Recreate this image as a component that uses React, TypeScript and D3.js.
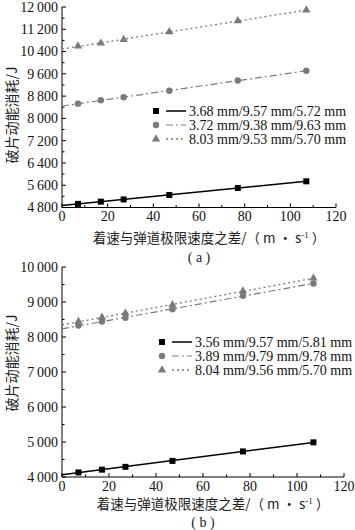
import React from "react";
import * as d3 from "d3";

const xValues = [7, 17, 27, 47, 77, 107];

const aSeriesNames = ["3.68 mm/9.57 mm/5.72 mm", "3.72 mm/9.38 mm/9.63 mm", "8.03 mm/9.53 mm/5.70 mm"];
const aSquare = [4930, 5010, 5090, 5250, 5500, 5740];
const aCircle = [8530, 8650, 8760, 8990, 9360, 9710];
const aTriangle = [10600, 10700, 10830, 11110, 11500, 11890];
const aYTicks = [4800, 5600, 6400, 7200, 8000, 8800, 9600, 10400, 11200, 12000];

const bSeriesNames = ["3.56 mm/9.57 mm/5.81 mm", "3.89 mm/9.79 mm/9.78 mm", "8.04 mm/9.56 mm/5.70 mm"];
const bSquare = [4130, 4210, 4290, 4460, 4730, 4990];
const bCircle = [8330, 8440, 8550, 8790, 9180, 9530];
const bTriangle = [8440, 8560, 8680, 8920, 9310, 9680];
const bYTicks = [4000, 5000, 6000, 7000, 8000, 9000, 10000];

const xTicks = [0, 20, 40, 60, 80, 100, 120];
const yTitle = "破片动能消耗/J";
const xTitle = "着速与弹道极限速度之差/（ m · s";

const FONT = "'Liberation Serif', 'Times New Roman', 'Noto Sans CJK SC', serif";
const CJK = "'Noto Sans CJK SC', 'Liberation Serif', serif";

function fmt(v: number) {
  const s = String(v);
  if (s.length > 3) return s.slice(0, s.length - 3) + "\u2009" + s.slice(s.length - 3);
  return s;
}

function fit(xs: number[], ys: number[]) {
  const mx = d3.mean(xs)!;
  const my = d3.mean(ys)!;
  let num = 0, den = 0;
  xs.forEach((x, i) => { num += (x - mx) * (ys[i] - my); den += (x - mx) * (x - mx); });
  const b = num / den;
  return { a: my - b * mx, b };
}

type PanelProps = {
  top: number; bottom: number; right: number;
  yDomain: [number, number]; yTicks: number[]; yMinorStep: number;
  series: number[][]; names: string[];
  legendX: number; legendY: number; label: string; titleY: number; labelY: number; yTitleY: number;
};

const styles = [
  { color: "#000", dash: "", width: 1.5, marker: "square" },
  { color: "#7a7a7a", dash: "7,3,2,3", width: 1.2, marker: "circle" },
  { color: "#7a7a7a", dash: "2,3", width: 1.3, marker: "triangle" },
];

function Marker({ type, x, y, color }: { type: string; x: number; y: number; color: string }) {
  if (type === "square") return <rect x={x - 3} y={y - 3} width={6} height={6} fill={color} />;
  if (type === "circle") return <circle cx={x} cy={y} r={3.2} fill={color} />;
  const p = d3.symbol(d3.symbolTriangle, 30)();
  return <path d={p || ""} transform={`translate(${x},${y})`} fill={color} />;
}

function Panel(p: PanelProps) {
  const left = 62;
  const x = d3.scaleLinear().domain([0, 120]).range([left, p.right]);
  const y = d3.scaleLinear().domain(p.yDomain).range([p.bottom, p.top]);
  const xMinor = d3.range(10, 120, 20);
  const yMinor = d3.range(p.yDomain[0] + p.yMinorStep, p.yDomain[1], p.yMinorStep * 2);
  return (
    <g>
      <line x1={left} x2={left} y1={p.top} y2={p.bottom} stroke="#000" strokeWidth={1} />
      <line x1={left} x2={p.right} y1={p.bottom} y2={p.bottom} stroke="#000" strokeWidth={1} />
      {p.yTicks.map((t) => (
        <g key={"yt" + t}>
          <line x1={left} x2={left + 4} y1={y(t)} y2={y(t)} stroke="#000" />
          <text x={left - 4} y={y(t)} dy="0.35em" textAnchor="end" fontSize={14} fontFamily={FONT} fill="#111">{fmt(t)}</text>
        </g>
      ))}
      {yMinor.map((t) => (
        <line key={"ym" + t} x1={left} x2={left + 2.5} y1={y(t)} y2={y(t)} stroke="#000" />
      ))}
      {xTicks.map((t) => (
        <g key={"xt" + t}>
          <line x1={x(t)} x2={x(t)} y1={p.bottom} y2={p.bottom - 4} stroke="#000" />
          <text x={x(t)} y={p.bottom + 13.5} textAnchor="middle" fontSize={14} fontFamily={FONT} fill="#111">{t}</text>
        </g>
      ))}
      {xMinor.map((t) => (
        <line key={"xm" + t} x1={x(t)} x2={x(t)} y1={p.bottom} y2={p.bottom - 2.5} stroke="#000" />
      ))}
      {p.series.map((ys, si) => {
        const st = styles[si];
        const f = fit(xValues, ys);
        const xe = xValues[xValues.length - 1];
        return (
          <g key={"s" + si}>
            <line x1={x(0)} y1={y(f.a)} x2={x(xe)} y2={y(f.a + f.b * xe)}
              stroke={st.color} strokeWidth={st.width} strokeDasharray={st.dash} />
            {ys.map((v, i) => <Marker key={i} type={st.marker} x={x(xValues[i])} y={y(v)} color={st.color} />)}
          </g>
        );
      })}
      {p.names.map((n, i) => {
        const st = styles[i];
        const ly = p.legendY + i * 14;
        return (
          <g key={"l" + i}>
            <Marker type={st.marker} x={p.legendX} y={ly} color={st.color} />
            <line x1={p.legendX + 10} x2={p.legendX + 30} y1={ly} y2={ly} stroke={st.color} strokeWidth={st.width} strokeDasharray={st.dash} />
            <text x={p.legendX + 33} y={ly} dy="0.35em" fontSize={14} fontFamily={FONT} fill="#111">{n}</text>
          </g>
        );
      })}
      <text transform={`translate(17,${p.yTitleY}) rotate(-90)`} textAnchor="middle" fontSize={14} fontFamily={CJK} fill="#222">{yTitle}</text>
      <text x={(left + p.right) / 2 + 10} y={p.titleY} textAnchor="middle" fontSize={13.5} fontFamily={CJK} fill="#222">
        {xTitle}
        <tspan dy={-5} fontSize={9} fontFamily={FONT}>-1</tspan>
        <tspan dy={5}> ）</tspan>
      </text>
      <text x={(left + p.right) / 2} y={p.labelY} textAnchor="middle" fontSize={14} fontFamily={FONT} fill="#222">{p.label}</text>
    </g>
  );
}

export default function App() {
  return (
    <svg width={355} height={530} style={{ position: "absolute", left: 0, top: 0, background: "#fff" }}>
      <Panel top={7} bottom={207.5} right={336} yDomain={[4800, 12000]} yTicks={aYTicks} yMinorStep={400}
        series={[aSquare, aCircle, aTriangle]} names={aSeriesNames}
        legendX={156} legendY={111} label="( a )" titleY={243} labelY={262} yTitleY={115} />
      <Panel top={267} bottom={477} right={344} yDomain={[4000, 10000]} yTicks={bYTicks} yMinorStep={500}
        series={[bSquare, bCircle, bTriangle]} names={bSeriesNames}
        legendX={162} legendY={342} label="( b )" titleY={508.5} labelY={526.5} yTitleY={363} />
    </svg>
  );
}
